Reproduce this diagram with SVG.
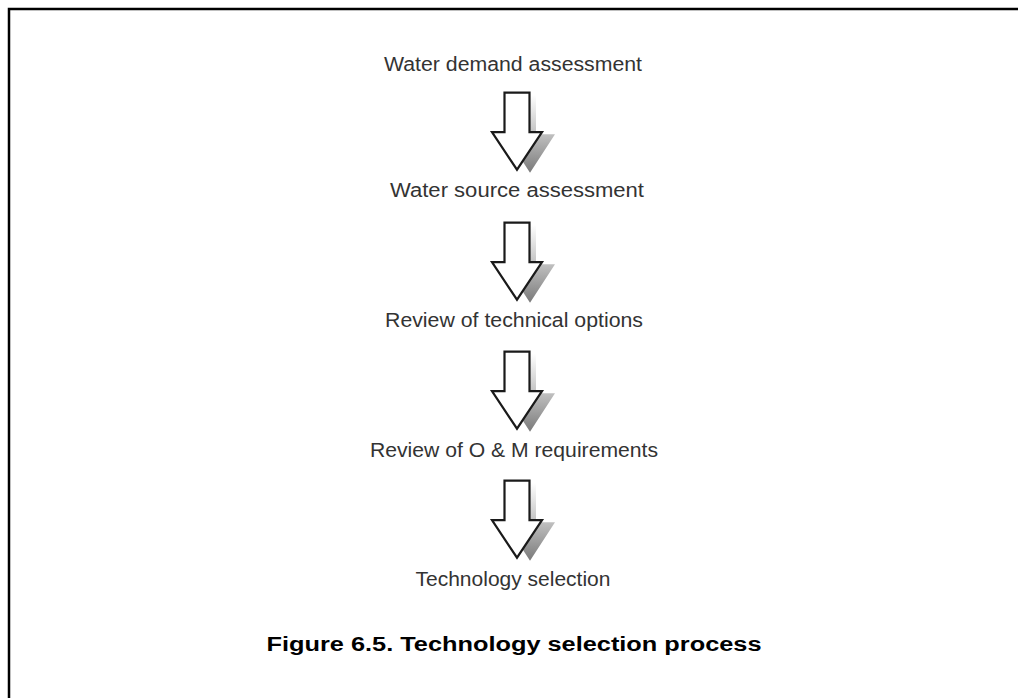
<svg xmlns="http://www.w3.org/2000/svg" width="1018" height="698" viewBox="0 0 1018 698">
<defs>
<linearGradient id="shadowGrad" x1="0" y1="0" x2="0" y2="1">
<stop offset="0" stop-color="#ffffff"/>
<stop offset="0.45" stop-color="#c8c8c8"/>
<stop offset="1" stop-color="#7a7a7a"/>
</linearGradient>
<g id="arrow">
<polygon points="-12,0 13,0 13,39.5 32,39.5 7,78 -18,39.5 -12,39.5" fill="url(#shadowGrad)" transform="translate(6,2)"/>
<polygon points="-12.5,0 12.5,0 12.5,39.5 25,39.5 0,77 -25,39.5 -12.5,39.5" fill="#ffffff" stroke="#1a1a1a" stroke-width="2.2" stroke-linejoin="miter"/>
</g>
<style>
.lbl{font-family:"Liberation Sans",Arial,sans-serif;font-size:20px;fill:#333333;text-anchor:middle}
.cap{font-family:"Liberation Sans",Arial,sans-serif;font-size:20px;font-weight:bold;fill:#000000;text-anchor:middle}
</style>
</defs>
<rect width="1018" height="698" fill="#ffffff"/>
<path d="M9,698 V9 H1018" fill="none" stroke="#000000" stroke-width="2.5"/>
<g id="connectors">
<use href="#arrow" x="517" y="92.7"/>
<use href="#arrow" x="517" y="222.7"/>
<use href="#arrow" x="517" y="351.7"/>
<use href="#arrow" x="517" y="480.7"/>
</g>
<g id="node1"><text class="lbl" x="513" y="71" textLength="258" lengthAdjust="spacingAndGlyphs">Water demand assessment</text></g>
<g id="node2"><text class="lbl" x="517" y="197" textLength="254" lengthAdjust="spacingAndGlyphs">Water source assessment</text></g>
<g id="node3"><text class="lbl" x="514" y="326.7" textLength="258" lengthAdjust="spacingAndGlyphs">Review of technical options</text></g>
<g id="node4"><text class="lbl" x="514" y="456.7" textLength="288" lengthAdjust="spacingAndGlyphs">Review of O &amp; M requirements</text></g>
<g id="node5"><text class="lbl" x="513" y="585.5" textLength="195" lengthAdjust="spacingAndGlyphs">Technology selection</text></g>
<g id="caption"><text class="cap" x="514" y="650.7" textLength="495" lengthAdjust="spacingAndGlyphs">Figure 6.5. Technology selection process</text></g>
</svg>
